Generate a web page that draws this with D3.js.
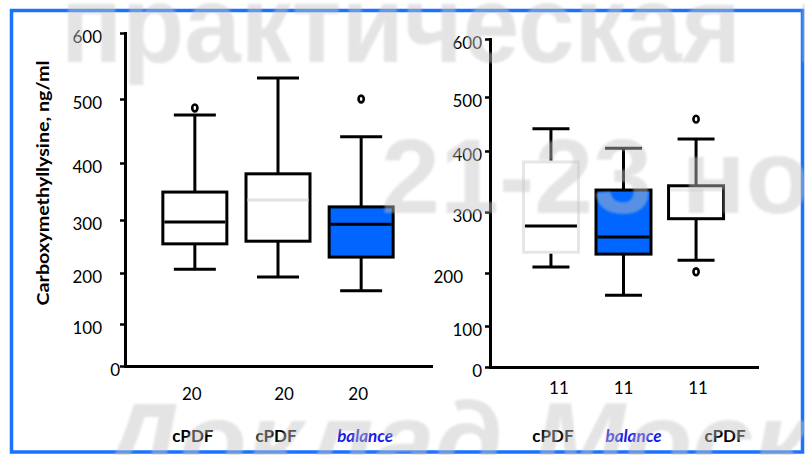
<!DOCTYPE html>
<html>
<head>
<meta charset="utf-8">
<script src="https://cdn.jsdelivr.net/npm/d3@7"></script>
<style>
  html, body { margin: 0; padding: 0; background: #fff; }
  svg { display: block; }
</style>
</head>
<body>
<svg id="chart" width="805" height="455"></svg>
<script>
// ---- Data: first comparison (n = 20 per group) ----
const groupsA   = ["cPDF-1", "cPDF-2", "balance-1"];
const labelsA   = ["cPDF", "cPDF", "balance"];
const countsA   = [20, 20, 20];
const lowA      = [207, 192, 165];
const q1A       = [255, 260, 230];
const medianA   = [296, 335, 292];
const q3A       = [349, 381, 323];
const highA     = [475, 532, 441];
const outliersA = [[486], [], [500]];

// ---- Data: second comparison (n = 11 per group) ----
const groupsB   = ["cPDF-3", "balance-2", "cPDF-4"];
const labelsB   = ["cPDF", "balance", "cPDF"];
const countsB   = [11, 11, 11];
const lowB      = [210, 158, 221];
const q1B       = [234, 231, 289];
const medianB   = [277, 259, 336];
const q3B       = [382, 336, 343];
const highB     = [441, 405, 422];
const outliersB = [[], [], [459, 202]];

const yTicks = [0, 100, 200, 300, 400, 500, 600];
const yTitle = "Carboxymethyllysine, ng/ml";

// Background lettering
const bannerLines = ["практическая", "конференция", "21-23 ноября", "Доклад Москва"];

// ---- Styles ----
const BLUE = "#0066ff";
const FONT = "Lato, 'Open Sans', sans-serif";
const boxStyle = {
  "cPDF-1":    { fill: "#fff", outline: "#000",    median: "#000" },
  "cPDF-2":    { fill: "#fff", outline: "#000",    median: "#e3e3e3" },
  "balance-1": { fill: BLUE,   outline: "#000",    median: "#000" },
  "cPDF-3":    { fill: "#fff", outline: "#e6e6e6", median: "#000" },
  "balance-2": { fill: BLUE,   outline: "#000",    median: "#000" },
  "cPDF-4":    { fill: "#fff", outline: "#000",    median: "#ececec" }
};

const svg = d3.select("#chart");
svg.append("rect").attr("width", 805).attr("height", 455).attr("fill", "#fff");

const defs = svg.append("defs");
defs.append("filter").attr("id", "soft")
  .attr("x", "-5%").attr("y", "-5%").attr("width", "110%").attr("height", "110%")
  .append("feGaussianBlur").attr("stdDeviation", 1.1);

function drawPanel(p) {
  const g = svg.append("g");
  const x = d3.scalePoint().domain(p.groups).range(p.xRange).padding(p.pad);
  // the printed axis is not evenly spaced, so the scale is piecewise
  const y = d3.scaleLinear().domain(yTicks).range(p.yRange);

  // baseline
  const xAxis = g.append("g")
    .attr("transform", `translate(0,${y(0)})`)
    .call(d3.axisBottom(x).tickValues([]).tickSizeOuter(0));
  xAxis.select(".domain").attr("stroke", "#000").attr("stroke-width", 3)
    .attr("stroke-linecap", "square");

  // value axis
  const yAxis = g.append("g")
    .attr("transform", `translate(${p.xRange[0]},0)`)
    .call(d3.axisLeft(y).tickValues(yTicks).tickSize(5).tickSizeOuter(0).tickPadding(p.tickPad));
  yAxis.select(".domain").attr("stroke", "#000").attr("stroke-width", 3)
    .attr("stroke-linecap", "square");
  yAxis.selectAll(".tick line").attr("stroke", "#000").attr("stroke-width", 2.5);
  yAxis.selectAll(".tick text")
    .attr("fill", "#000")
    .style("font-family", FONT)
    .style("font-size", "17px")
    .attr("dy", "0.55em")
    .attr("dx", d => (p.labelShift[d] || 0));

  const bw = p.boxW / 2, cw = p.capW / 2;
  p.groups.forEach((key, i) => {
    const cx = x(key), st = boxStyle[key];
    const gb = g.append("g");
    const line = (x1, y1, x2, y2, c) => gb.append("line")
      .attr("x1", x1).attr("y1", y1).attr("x2", x2).attr("y2", y2)
      .attr("stroke", c || "#000").attr("stroke-width", 3);
    // whiskers and caps
    line(cx, y(p.high[i]), cx, y(p.q3[i]));
    line(cx, y(p.q1[i]), cx, y(p.low[i]));
    line(cx - cw, y(p.high[i]), cx + cw, y(p.high[i]));
    line(cx - cw, y(p.low[i]), cx + cw, y(p.low[i]));
    // box
    gb.append("rect")
      .attr("x", cx - bw).attr("width", p.boxW)
      .attr("y", y(p.q3[i])).attr("height", y(p.q1[i]) - y(p.q3[i]))
      .attr("fill", st.fill).attr("stroke", st.outline).attr("stroke-width", 3);
    line(cx - bw + 1.5, y(p.median[i]), cx + bw - 1.5, y(p.median[i]), st.median);
    // outliers
    p.outliers[i].forEach(v => {
      gb.append("ellipse").attr("cx", cx).attr("cy", y(v))
        .attr("rx", 2.6).attr("ry", 3.4)
        .attr("fill", "#fff").attr("stroke", "#000").attr("stroke-width", 2.6);
    });
    // n under the axis
    g.append("text").attr("x", cx + (p.countShift[i] || 0)).attr("y", p.countY)
      .attr("text-anchor", "middle").attr("dominant-baseline", "central")
      .style("font-family", FONT).style("font-size", "17px").attr("fill", "#000")
      .text(p.counts[i]);
    // group name
    const isBal = p.labels[i] === "balance";
    g.append("text").attr("x", cx + (p.labelShift2[i] || 0)).attr("y", 435)
      .attr("text-anchor", "middle").attr("dominant-baseline", "central")
      .style("font-family", FONT).style("font-size", "17px")
      .style("font-weight", "bold").style("font-style", isBal ? "italic" : "normal")
      .attr("fill", isBal ? "#1a1ae6" : "#000")
      .text(p.labels[i]);
  });
}

drawPanel({
  groups: groupsA, labels: labelsA, counts: countsA,
  low: lowA, q1: q1A, median: medianA, q3: q3A, high: highA, outliers: outliersA,
  xRange: [125, 431], pad: 0.84,
  yRange: [366, 324, 273, 220, 163, 99, 33],
  tickPad: 18, labelShift: { 0: 18 },
  boxW: 64, capW: 42, countY: 393,
  countShift: [-3, 6, -3], labelShift2: [-2, -2, 4]
});

drawPanel({
  groups: groupsB, labels: labelsB, counts: countsB,
  low: lowB, q1: q1B, median: medianB, q3: q3B, high: highB, outliers: outliersB,
  xRange: [490, 757], pad: 0.84,
  yRange: [367, 326, 273, 212, 151, 97, 39],
  tickPad: 3, labelShift: { 200: -19 },
  boxW: 55, capW: 37, countY: 387,
  countShift: [8, 0, 2], labelShift2: [2, 10, 29]
});

// y title
svg.append("text")
  .attr("transform", "translate(42,183) rotate(-90)")
  .attr("text-anchor", "middle").attr("dominant-baseline", "central")
  .style("font-family", FONT).style("font-size", "17px").style("font-weight", "bold")
  .attr("textLength", 245).attr("lengthAdjust", "spacingAndGlyphs")
  .text(yTitle);

// frame
svg.append("rect").attr("x", 11.5).attr("y", 10.5).attr("width", 791).attr("height", 441.5)
  .attr("fill", "none").attr("stroke", "#1a73ff").attr("stroke-width", 3.5);

// translucent lettering laid over the slide
const wm = svg.append("g").attr("fill", "rgb(195,195,195)").attr("fill-opacity", 0.45)
  .attr("filter", "url(#soft)")
  .style("font-family", "'Liberation Sans', Arial, sans-serif").style("font-weight", "bold");
wm.append("text").attr("x", 61).attr("y", 62).style("font-size", "110px")
  .attr("textLength", 680).attr("lengthAdjust", "spacingAndGlyphs").text(bannerLines[0]);
wm.append("text").attr("x", 795).attr("y", 62).style("font-size", "110px").text(bannerLines[1]);
wm.append("text").attr("x", 381).attr("y", 213).style("font-size", "106px").text(bannerLines[2]);
wm.append("text").attr("x", 100).attr("y", 479).style("font-size", "110px")
  .style("font-style", "italic").text(bannerLines[3]);
</script>
</body>
</html>
